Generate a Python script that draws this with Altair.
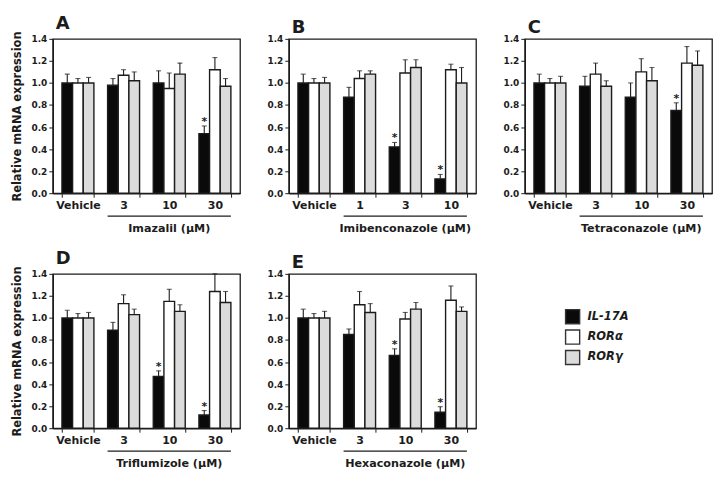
import altair as alt
import pandas as pd

FONT = "DejaVu Sans"
INK = "#1c1c1c"
W, H = 188, 155

series = ["IL-17A", "RORα", "RORγ"]
series_fill = ["#0a0a0a", "#ffffff", "#dcdcdc"]

letters = ["A", "B", "C", "D", "E"]
compounds = ["Imazalil (μM)", "Imibenconazole (μM)", "Tetraconazole (μM)",
             "Triflumizole (μM)", "Hexaconazole (μM)"]
doses = [
    ["Vehicle", "3", "10", "30"],
    ["Vehicle", "1", "3", "10"],
    ["Vehicle", "3", "10", "30"],
    ["Vehicle", "3", "10", "30"],
    ["Vehicle", "3", "10", "30"],
]

il17a = [
    [1.00, 0.98, 1.00, 0.54],
    [1.00, 0.87, 0.42, 0.13],
    [1.00, 0.97, 0.87, 0.75],
    [1.00, 0.89, 0.47, 0.12],
    [1.00, 0.85, 0.66, 0.145],
]
il17a_err = [
    [0.08, 0.06, 0.11, 0.07],
    [0.08, 0.09, 0.04, 0.04],
    [0.08, 0.09, 0.13, 0.07],
    [0.07, 0.07, 0.05, 0.04],
    [0.08, 0.05, 0.06, 0.05],
]
rora = [
    [1.00, 1.07, 0.95, 1.12],
    [1.00, 1.04, 1.09, 1.12],
    [1.00, 1.08, 1.10, 1.18],
    [1.00, 1.13, 1.15, 1.24],
    [1.00, 1.12, 0.99, 1.16],
]
rora_err = [
    [0.04, 0.05, 0.14, 0.11],
    [0.04, 0.07, 0.12, 0.05],
    [0.04, 0.10, 0.12, 0.15],
    [0.04, 0.08, 0.11, 0.16],
    [0.04, 0.12, 0.06, 0.13],
]
rorg = [
    [1.00, 1.02, 1.08, 0.97],
    [1.00, 1.08, 1.14, 1.00],
    [1.00, 0.97, 1.02, 1.16],
    [1.00, 1.03, 1.06, 1.14],
    [1.00, 1.05, 1.08, 1.06],
]
rorg_err = [
    [0.05, 0.08, 0.10, 0.07],
    [0.05, 0.03, 0.07, 0.14],
    [0.06, 0.05, 0.12, 0.13],
    [0.05, 0.05, 0.06, 0.10],
    [0.06, 0.08, 0.06, 0.04],
]
il17a_sig = [
    [0, 0, 0, 1],
    [0, 0, 1, 1],
    [0, 0, 0, 1],
    [0, 0, 1, 1],
    [0, 0, 1, 1],
]

y_ticks = [0.0, 0.2, 0.4, 0.6, 0.8, 1.0, 1.2, 1.4]

fill_scale = alt.Scale(domain=series, range=series_fill)


def panel(i, show_ytitle):
    rows = []
    for j, d in enumerate(doses[i]):
        for s, m, e, sig in [
            (series[0], il17a[i][j], il17a_err[i][j], il17a_sig[i][j]),
            (series[1], rora[i][j], rora_err[i][j], 0),
            (series[2], rorg[i][j], rorg_err[i][j], 0),
        ]:
            rows.append({"dose": d, "series": s, "mean": m, "top": m + e, "sig": sig})
    df = pd.DataFrame(rows)

    xscale = alt.Scale(domain=doses[i], paddingInner=0.3, paddingOuter=0.2)
    xaxis = alt.Axis(title=None, labelAngle=0, tickBand="extent", tickSize=4,
                     labelFont=FONT, labelFontWeight="bold", labelFontSize=11,
                     labelColor=INK, labelPadding=2, domainColor=INK,
                     tickColor=INK, domainWidth=1.4)
    yaxis = alt.Axis(values=y_ticks, format=".1f", tickSize=4, labelFont=FONT,
                     labelFontWeight="bold", labelFontSize=9, labelColor=INK,
                     labelPadding=2, domainColor=INK, tickColor=INK, domainWidth=1.4,
                     grid=False,
                     title="Relative mRNA expression" if show_ytitle else "",
                     titleFont=FONT, titleFontWeight="bold", titleFontSize=11.5,
                     titleColor=INK, titlePadding=8)
    yscale = alt.Scale(domain=[0, 1.4], nice=False, zero=True)
    xo = alt.XOffset("series:N", scale=alt.Scale(domain=series, paddingInner=0, paddingOuter=0))
    x = alt.X("dose:N", scale=xscale, axis=xaxis)

    base = alt.Chart(df)
    bars = base.mark_bar(stroke=INK, strokeWidth=1.4).encode(
        x=x, xOffset=xo,
        y=alt.Y("mean:Q", scale=yscale, axis=yaxis),
        fill=alt.Fill("series:N", scale=fill_scale, legend=None),
    )
    err = base.mark_rule(color=INK, strokeWidth=1.1).encode(
        x=x, xOffset=xo, y=alt.Y("mean:Q", scale=yscale, axis=yaxis), y2="top:Q"
    )
    caps = base.mark_tick(color=INK, size=5, thickness=1.1).encode(
        x=x, xOffset=xo, y=alt.Y("top:Q", scale=yscale, axis=yaxis)
    )
    stars = base.transform_filter("datum.sig == 1").mark_text(
        text="*", font=FONT, fontWeight="bold", fontSize=11, color=INK,
        baseline="middle", dy=-4
    ).encode(x=x, xOffset=xo, y=alt.Y("top:Q", scale=yscale, axis=yaxis))

    line_df = pd.DataFrame({"start": [doses[i][1]], "end": [doses[i][-1]],
                            "mid": [doses[i][2]], "label": [compounds[i]]})
    lbase = alt.Chart(line_df)
    underline = lbase.mark_rule(color=INK, strokeWidth=1.3).encode(
        x=alt.X("start:N", scale=xscale, axis=xaxis, bandPosition=0),
        x2=alt.X2("end:N", bandPosition=1),
        y=alt.value(H + 23),
    )
    label = lbase.mark_text(font=FONT, fontWeight="bold", fontSize=11.2,
                            color=INK, baseline="middle").encode(
        x=alt.X("mid:N", scale=xscale, axis=xaxis),
        y=alt.value(H + 36),
        text="label:N",
    )

    return alt.layer(bars, err, caps, stars, underline, label).properties(
        width=W, height=H,
        title=alt.TitleParams(text=letters[i], anchor="start", frame="group",
                              font=FONT, fontSize=18, fontWeight="bold",
                              color=INK, offset=-2, dx=3),
    )


leg_df = pd.DataFrame({"series": series})
leg_y = alt.Y("series:N", axis=None,
              scale=alt.Scale(domain=series, range=[43, 84], padding=0))
leg_sq = alt.Chart(leg_df).mark_square(size=200, stroke="#333333", strokeWidth=1.4,
                                        opacity=1).encode(
    x=alt.value(71), y=leg_y,
    fill=alt.Fill("series:N", scale=fill_scale, legend=None),
)
leg_tx = alt.Chart(leg_df).mark_text(align="left", baseline="middle", font=FONT,
                                     fontStyle="italic", fontWeight="bold",
                                     fontSize=11.5, color=INK).encode(
    x=alt.value(86), y=leg_y, text="series:N"
)
legend = alt.layer(leg_sq, leg_tx).properties(
    width=W, height=H, view=alt.ViewBackground(strokeOpacity=0)
)

row1 = alt.hconcat(panel(0, True), panel(1, False), panel(2, False), spacing=25)
row2 = alt.hconcat(panel(3, True), panel(4, False), legend, spacing=25)

chart = alt.vconcat(row1, row2, spacing=14).resolve_scale(
    x="independent", y="independent", xOffset="independent"
).configure_view(stroke=INK, strokeWidth=1.3).properties(
    padding={"left": 3, "top": 5, "right": 5, "bottom": 0}
)

chart.save("out.html", embed_options={"renderer": "svg", "actions": False})
